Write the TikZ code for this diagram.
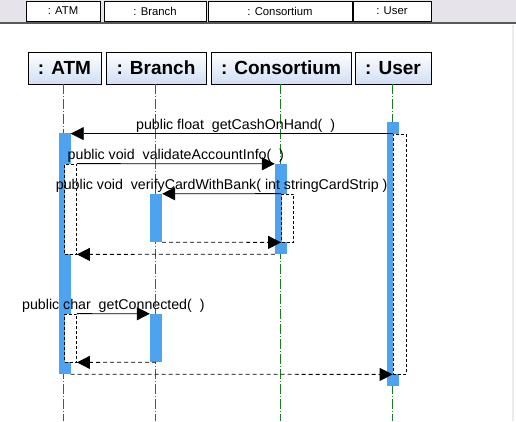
\documentclass[tikz,border=0pt]{standalone}
\usepackage{fontspec}
\setmainfont{Liberation Sans}
\usetikzlibrary{arrows.meta}
\definecolor{barblue}{HTML}{4DA3F0}
\definecolor{hdrblue}{HTML}{CFDFF4}
\definecolor{lifegreen}{HTML}{1E7A1E}
\definecolor{tabgray}{HTML}{E7E3EA}

\begin{document}
\begin{tikzpicture}[x=1pt,y=-1pt,
  tabbox/.style={draw=black,fill=white,line width=0.8pt,inner sep=0pt,minimum height=20pt,font=\fontsize{11.3}{13}\selectfont},
  hdr/.style={draw=black,line width=0.8pt,top color=white,bottom color=hdrblue,inner sep=0pt,minimum height=32pt,font=\fontsize{19}{22}\selectfont\bfseries},
  lifeline/.style={lifegreen,line width=0.8pt,dash pattern=on 10pt off 2pt on 1pt off 2pt},
  actbar/.style={fill=barblue,draw=none,inner sep=0pt,minimum width=12pt},
  selfbox/.style={fill=white,draw=black,line width=0.8pt,dash pattern=on 3pt off 2pt,inner sep=0pt,minimum width=12pt},
  msg/.style={black,line width=0.8pt,-{Triangle[length=13pt,width=13pt]}},
  ret/.style={black,line width=0.8pt,dash pattern=on 4pt off 3pt,-{Triangle[length=13pt,width=13pt]}},
  lbl/.style={font=\fontsize{14.2}{16}\selectfont,inner sep=1pt}]
\useasboundingbox (0,0) rectangle (516,421);

% window strip at the top
\fill[tabgray] (0,0) rectangle (516,22);
\draw[gray!70!black,line width=1.5pt] (0,23) -- (516,23);
\draw[black!8,line width=2pt] (513,25) -- (513,421);
\node[tabbox,minimum width=74pt] (tabatm) at (63,11) {: ATM};
\node[tabbox,minimum width=102pt] (tabbranch) at (155,11) {: Branch};
\node[tabbox,minimum width=144pt] (tabcons) at (280,11) {: Consortium};
\node[tabbox,minimum width=78pt] (tabuser) at (392,11) {: User};

% objects
\node[hdr,minimum width=73pt] (atm) at (64.5,68) {: ATM};
\node[hdr,minimum width=100pt] (branch) at (156,68) {: Branch};
\node[hdr,minimum width=140pt] (cons) at (281,68) {: Consortium};
\node[hdr,minimum width=76pt] (user) at (393,68) {: User};

% lifelines
\foreach \obj in {atm,branch,cons,user}
  \draw[lifeline] ([xshift=-1pt]\obj.south) -- ([xshift=-1pt]\obj.south |- 0,421);

% activations
\node[actbar,minimum height=241pt] (atmbar) at (atm |- 0,253.5) {};
\node[actbar,minimum height=48pt] (brbar1) at (branch |- 0,218) {};
\node[actbar,minimum height=48pt] (brbar2) at (branch |- 0,338) {};
\node[actbar,minimum height=90pt] (consbar) at (cons |- 0,209) {};
\node[actbar,minimum height=264pt] (userbar) at (user |- 0,254) {};

\node[selfbox,minimum height=90pt] (atmself1) at ([xshift=6pt]atm |- 0,209) {};
\node[selfbox,minimum height=48pt] (atmself2) at ([xshift=6pt]atm |- 0,338) {};
\node[selfbox,minimum height=48pt] (consself) at ([xshift=6.5pt]cons |- 0,218) {};
\node[selfbox,minimum width=13pt,minimum height=240pt] (userself) at ([xshift=6.5pt]user |- 0,254) {};

% messages
\draw[msg] (userself.north west) -- (atmbar.east |- userself.north)
  node[lbl,midway,above,xshift=4pt] {public float\ \ getCashOnHand(\ \ )};
\draw[msg] (atmself1.north east) -- (consbar.north west)
  node[lbl,midway,above] {public void\ \ validateAccountInfo(\ \ )};
\draw[msg] (consself.north west) -- (brbar1.north east)
  node[lbl,midway,above] {public void\ \ verifyCardWithBank( int stringCardStrip )};
\draw[ret] (brbar1.south east) -- (consself.south west);
\draw[ret] (consbar.south west) -- (atmself1.south east);
\draw[msg] (atmself2.north east) -- (brbar2.north west)
  node[lbl,midway,above] {public char\ \ getConnected(\ \ )};
\draw[ret] (brbar2.south) -- (atmself2.south east);
\draw[ret] (atmbar.south east) -- (userself.south west);
\end{tikzpicture}
\end{document}
